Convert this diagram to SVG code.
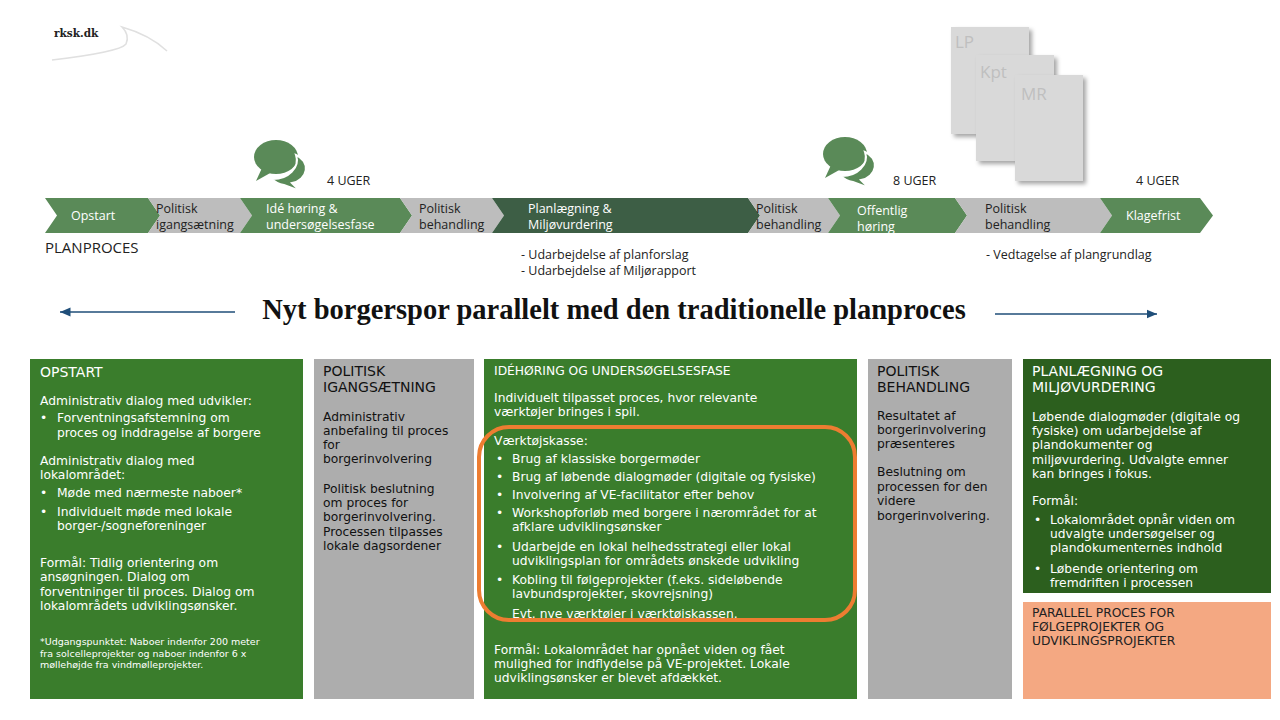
<svg xmlns="http://www.w3.org/2000/svg" width="1280" height="720" viewBox="0 0 1280 720">
<defs>
<style>
.cv{font-family:"Open Sans","Liberation Sans",sans-serif;font-size:12.5px}
.w{fill:#fff}.k{fill:#222}
.t{font-family:"DejaVu Sans","Liberation Sans",sans-serif;font-size:12.3px}
.h{font-family:"DejaVu Sans","Liberation Sans",sans-serif;font-size:14px}
.sm{font-family:"DejaVu Sans","Liberation Sans",sans-serif;font-size:9.5px}
.doc{fill:#d9d9d9;filter:url(#sh)}
.dl{font-family:"Open Sans","Liberation Sans",sans-serif;font-size:17px;fill:#bfbfbf}
</style>
<filter id="sh" x="-20%" y="-20%" width="150%" height="150%"><feDropShadow dx="3" dy="3" stdDeviation="2" flood-color="#000" flood-opacity="0.35"/></filter>
<marker id="ah" markerWidth="8" markerHeight="8" refX="7" refY="4" orient="auto"><path d="M0,1 L7,4 L0,7 Z" fill="#1f4e79"/></marker>
<g id="bubble"><ellipse cx="0" cy="0" rx="22" ry="17" fill="#5a8a58"/><path d="M-14,11 L-20,24 L-4,15 Z" fill="#5a8a58"/><path d="M20,-2 A18 15 0 0 1 16,26 L24,34 L8,28 A18 15 0 0 1 -4,22 A24 19 0 0 0 20,-2 Z" fill="#5a8a58" stroke="#fff" stroke-width="2"/></g>
</defs>
<rect width="1280" height="720" fill="#fff"/>
<g id="logo"><text x="54" y="37" font-family="'DejaVu Serif','Liberation Serif',serif" font-weight="bold" font-size="10.5" fill="#222">rksk.dk</text><path d="M52,60 Q120,52 126,44 Q130,35 122,27 Q150,35 167,51" fill="none" stroke="#e0e0e0" stroke-width="1.5"/></g>
<g id="docs">
<rect class="doc" x="951" y="27" width="78" height="107"/><text class="dl" x="955" y="48">LP</text>
<rect class="doc" x="976" y="55" width="78" height="106"/><text class="dl" x="980" y="78">Kpt</text>
<rect class="doc" x="1015" y="75" width="68" height="106"/><text class="dl" x="1021" y="100">MR</text>
</g>
<use href="#bubble" x="276" y="157"/>
<use href="#bubble" x="845" y="154"/>
<g class="cv k" font-size="11"><text x="327" y="185">4 UGER</text><text x="893" y="185">8 UGER</text><text x="1136" y="185">4 UGER</text></g>
<g id="planbar">
<path d="M45,198 H148 L160,215.5 L148,233 H45 L57,215.5 Z" fill="#5a8a58"/>
<path d="M148,198 H240 L252,215.5 L240,233 H148 L160,215.5 Z" fill="#bdbdbd"/>
<path d="M240,198 H400 L412,215.5 L400,233 H240 L252,215.5 Z" fill="#5a8a58"/>
<path d="M400,198 H492 L504,215.5 L492,233 H400 L412,215.5 Z" fill="#bdbdbd"/>
<path d="M492,198 H748 L760,215.5 L748,233 H492 L504,215.5 Z" fill="#3d5e45"/>
<path d="M748,198 H828 L840,215.5 L828,233 H748 L760,215.5 Z" fill="#bdbdbd"/>
<path d="M828,198 H955 L967,215.5 L955,233 H828 L840,215.5 Z" fill="#5a8a58"/>
<path d="M955,198 H1100 L1112,215.5 L1100,233 H955 L967,215.5 Z" fill="#bdbdbd"/>
<path d="M1100,198 H1200 L1213,215.5 L1200,233 H1100 L1112,215.5 Z" fill="#5a8a58"/>
</g>
<g class="cv">
<text class="w" x="71" y="220">Opstart</text>
<text class="k" x="156" y="213">Politisk</text><text class="k" x="156" y="229">igangsætning</text>
<text class="w" x="266" y="213">Idé høring &amp;</text><text class="w" x="266" y="229">undersøgelsesfase</text>
<text class="k" x="419" y="213">Politisk</text><text class="k" x="419" y="229">behandling</text>
<text class="w" x="528" y="213">Planlægning &amp;</text><text class="w" x="528" y="229">Miljøvurdering</text>
<text class="k" x="756" y="213">Politisk</text><text class="k" x="756" y="229">behandling</text>
<text class="w" x="857" y="215">Offentlig</text><text class="w" x="857" y="231">høring</text>
<text class="k" x="985" y="213">Politisk</text><text class="k" x="985" y="229">behandling</text>
<text class="w" x="1126" y="220">Klagefrist</text>
<text class="k" x="45" y="253" font-size="15">PLANPROCES</text>
<text class="k" x="521" y="259">- Udarbejdelse af planforslag</text>
<text class="k" x="521" y="275">- Udarbejdelse af Miljørapport</text>
<text class="k" x="986" y="259">- Vedtagelse af plangrundlag</text>
</g>
<g id="connectors">
<line x1="235" y1="312" x2="60" y2="312" stroke="#1f4e79" stroke-width="1.5" marker-end="url(#ah)"/>
<line x1="995" y1="314" x2="1157" y2="314" stroke="#1f4e79" stroke-width="1.5" marker-end="url(#ah)"/>
</g>
<text x="614" y="319" text-anchor="middle" font-family="'Liberation Serif',serif" font-weight="bold" font-size="28.5" fill="#111">Nyt borgerspor parallelt med den traditionelle planproces</text>
<g id="opstart">
<rect x="30" y="359" width="273" height="340" fill="#3a7d2c"/>
<g class="w">
<text class="h" x="40" y="377">OPSTART</text>
<g class="t">
<text x="40" y="405">Administrativ dialog med udvikler:</text>
<text x="40" y="422">•</text><text x="57" y="422">Forventningsafstemning om</text><text x="57" y="437">proces og inddragelse af borgere</text>
<text x="40" y="465">Administrativ dialog med</text><text x="40" y="479">lokalområdet:</text>
<text x="40" y="497">•</text><text x="57" y="497">Møde med nærmeste naboer*</text>
<text x="40" y="516">•</text><text x="57" y="516">Individuelt møde med lokale</text><text x="57" y="530">borger-/sogneforeninger</text>
<text x="40" y="567">Formål: Tidlig orientering om</text><text x="40" y="581">ansøgningen. Dialog om</text><text x="40" y="596">forventninger til proces. Dialog om</text><text x="40" y="610">lokalområdets udviklingsønsker.</text>
</g>
<g class="sm"><text x="40" y="645">*Udgangspunktet: Naboer indenfor 200 meter</text><text x="40" y="657">fra solcelleprojekter og naboer indenfor 6 x</text><text x="40" y="668">møllehøjde fra vindmølleprojekter.</text></g>
</g></g>
<g id="politisk-igangsaetning">
<rect x="314" y="359" width="160" height="340" fill="#adadad"/>
<g fill="#111"><text class="h" x="323" y="376">POLITISK</text><text class="h" x="323" y="392">IGANGSÆTNING</text>
<g class="t"><text x="323" y="421">Administrativ</text><text x="323" y="435">anbefaling til proces</text><text x="323" y="449">for</text><text x="323" y="463">borgerinvolvering</text>
<text x="323" y="493">Politisk beslutning</text><text x="323" y="507">om proces for</text><text x="323" y="521">borgerinvolvering.</text><text x="323" y="536">Processen tilpasses</text><text x="323" y="550">lokale dagsordener</text></g></g>
</g>
<g id="idehoering">
<rect x="484" y="359" width="373" height="340" fill="#3a7d2c"/>
<g class="w t">
<text x="494" y="375">IDÉHØRING OG UNDERSØGELSESFASE</text>
<text x="494" y="402">Individuelt tilpasset proces, hvor relevante</text><text x="494" y="416">værktøjer bringes i spil.</text>
<text x="494" y="445">Værktøjskasse:</text>
<text x="496" y="463">•</text><text x="512" y="463">Brug af klassiske borgermøder</text>
<text x="496" y="481">•</text><text x="512" y="481">Brug af løbende dialogmøder (digitale og fysiske)</text>
<text x="496" y="499">•</text><text x="512" y="499">Involvering af VE-facilitator efter behov</text>
<text x="496" y="517">•</text><text x="512" y="517">Workshopforløb med borgere i nærområdet for at</text><text x="512" y="531">afklare udviklingsønsker</text>
<text x="496" y="551">•</text><text x="512" y="551">Udarbejde en lokal helhedsstrategi eller lokal</text><text x="512" y="565">udviklingsplan for områdets ønskede udvikling</text>
<text x="496" y="584">•</text><text x="512" y="584">Kobling til følgeprojekter (f.eks. sideløbende</text><text x="512" y="598">lavbundsprojekter, skovrejsning)</text>
<text x="512" y="618">Evt. nye værktøjer i værktøjskassen.</text>
<text x="494" y="654">Formål: Lokalområdet har opnået viden og fået</text><text x="494" y="668">mulighed for indflydelse på VE-projektet. Lokale</text><text x="494" y="682">udviklingsønsker er blevet afdækket.</text>
</g>
<rect x="479" y="427" width="376" height="193" rx="30" fill="none" stroke="#ed7d31" stroke-width="4"/>
</g>
<g id="politisk-behandling">
<rect x="868" y="359" width="144" height="340" fill="#adadad"/>
<g fill="#111"><text class="h" x="877" y="376">POLITISK</text><text class="h" x="877" y="392">BEHANDLING</text>
<g class="t"><text x="877" y="420">Resultatet af</text><text x="877" y="434">borgerinvolvering</text><text x="877" y="448">præsenteres</text>
<text x="877" y="476">Beslutning om</text><text x="877" y="491">processen for den</text><text x="877" y="505">videre</text><text x="877" y="520">borgerinvolvering.</text></g></g>
</g>
<g id="planlaegning">
<rect x="1023" y="359" width="248" height="234" fill="#2c5f1e"/>
<g class="w"><text class="h" x="1032" y="376">PLANLÆGNING OG</text><text class="h" x="1032" y="392">MILJØVURDERING</text>
<g class="t"><text x="1032" y="421">Løbende dialogmøder (digitale og</text><text x="1032" y="435">fysiske) om udarbejdelse af</text><text x="1032" y="449">plandokumenter og</text><text x="1032" y="464">miljøvurdering. Udvalgte emner</text><text x="1032" y="478">kan bringes i fokus.</text>
<text x="1032" y="505">Formål:</text>
<text x="1034" y="524">•</text><text x="1050" y="524">Lokalområdet opnår viden om</text><text x="1050" y="538">udvalgte undersøgelser og</text><text x="1050" y="552">plandokumenternes indhold</text>
<text x="1034" y="573">•</text><text x="1050" y="573">Løbende orientering om</text><text x="1050" y="587">fremdriften i processen</text></g></g>
</g>
<g id="parallel">
<rect x="1023" y="602" width="248" height="97" fill="#f4a882"/>
<g class="t" fill="#222"><text x="1032" y="617">PARALLEL PROCES FOR</text><text x="1032" y="631">FØLGEPROJEKTER OG</text><text x="1032" y="645">UDVIKLINGSPROJEKTER</text></g>
</g>
</svg>
